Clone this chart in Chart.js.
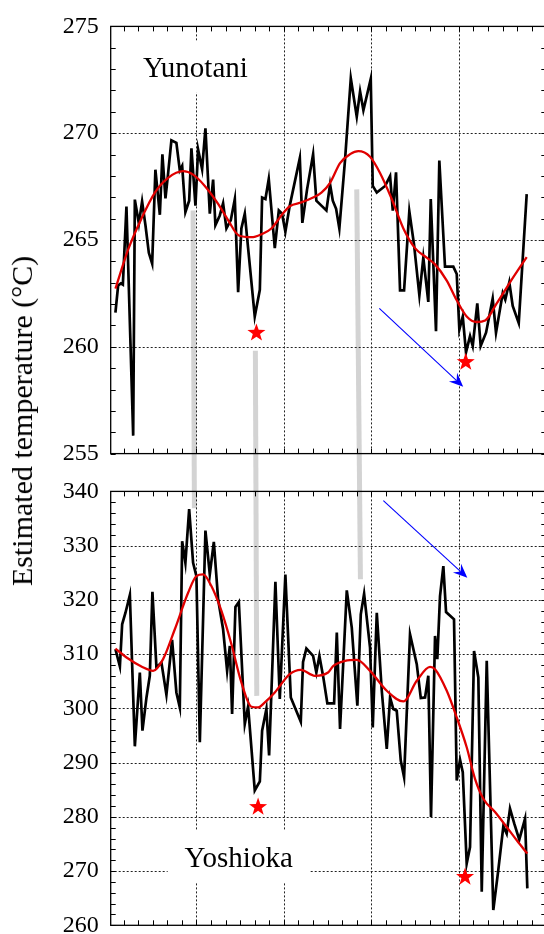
<!DOCTYPE html>
<html><head><meta charset="utf-8">
<script src="https://cdn.jsdelivr.net/npm/chart.js@4.4.1/dist/chart.umd.min.js"></script>
<style>
html,body{margin:0;padding:0;background:#fff;overflow:hidden;width:544px;height:934px;}
#wrap{position:relative;width:544px;height:934px;overflow:hidden;background:#fff;}
canvas{position:absolute;left:0;}
#under{top:0;z-index:0}
#c1{top:0;z-index:1}
#c2{top:465px;z-index:1}
#over{top:0;z-index:2}
#ytitle{position:absolute;left:22px;top:421px;transform:translate(-50%,-50%) rotate(-90deg);white-space:nowrap;font:30px 'Liberation Serif';color:#000;z-index:3}
</style></head>
<body><div id="wrap">
<canvas id="under" width="560" height="960"></canvas>
<canvas id="c1" width="560" height="480"></canvas>
<canvas id="c2" width="560" height="490"></canvas>
<canvas id="over" width="560" height="960"></canvas>
<div id="ytitle">Estimated temperature (°C)</div>
</div>
<script>
// ---- Yunotani (top panel) ----
const topX = [7.4,10.5,13.6,15.9,20.0,27.7,29.6,34.2,37.9,41.7,45.6,49.4,53.1,58.2,61.1,64.6,67.7,71.4,77.1,81.0,83.7,87.4,91.7,94.3,98.9,101.9,106.5,110.3,115.3,119.1,121.7,126.7,130.5,134.3,139.3,143.9,147.7,151.4,155.3,159.1,166.7,172.5,175.1,178.9,182.7,189.6,194.2,197.9,201.7,206.7,218.2,221.1,226.5,233.4,237.1,242.9,248.6,252.8,255.9,259.7,263.4,269.9,276.5,283.3,287.1,290.9,299.3,301.6,306.2,315.7,321.4,324.5,328.2,332.8,337.4,343.4,348.8,354.9,359.4,365.1,367.9,373.9,377.7,384.2,393.7,397.6,400.6,404.5,408.2,412.8,415.9,421.1,425.0,431.1,438.7,442.5,450.2,453.1,457.7,461.6,468.5,477.6];
const topY = [261.6,262.87,262.97,262.91,266.57,255.84,266.89,265.77,266.8,265.7,264.4,263.89,268.29,266.18,269.01,266.95,268.14,269.67,269.55,268.26,268.47,266.31,266.84,269.29,266.61,269.24,268.32,270.23,266.23,267.83,265.7,266.15,266.72,265.54,265.93,266.92,262.56,265.54,266.23,264.62,261.42,262.67,266.99,266.92,267.86,264.62,266.38,266.23,265.39,266.61,268.83,265.8,267.37,269.01,266.84,266.61,266.38,267.6,266.84,266.46,265.54,268.75,272.57,270.77,271.96,271.07,272.54,267.53,267.22,267.53,267.99,266.38,268.17,262.64,262.64,266.34,264.78,262.41,264.17,262.1,266.92,260.73,268.72,263.75,263.75,263.41,260.81,261.42,259.74,260.5,260.04,262.03,260.04,260.66,262.26,260.66,262.52,262.21,263.02,261.91,261.11,267.15];
const topSmoothX = [7.4,21.9,37.1,52.5,67.7,84.8,96.2,109.6,124.8,136.2,148.5,162.9,174.3,185.7,197.1,206.7,220.0,233.4,242.9,252.8,264.2,275.7,285.1,298.5,309.9,323.3,336.6,349.9,363.3,372.8,386.2,397.6,409.0,420.5,430.1,443.3,458.5,477.6];
const topSmoothY = [262.72,264.55,266.0,267.22,267.91,268.22,268.06,267.53,266.69,265.93,265.21,265.13,265.27,265.54,266.15,266.58,266.76,266.99,267.22,267.68,268.6,269.02,269.16,268.9,268.14,266.92,265.54,264.62,264.17,263.86,263.1,262.18,261.42,261.16,261.23,262.03,263.02,264.2];

// ---- Yoshioka (bottom panel) ----
const botX = [7.4,12.5,15.1,18.9,23.9,29.6,35.3,38.3,42.9,46.7,49.7,54.3,60.0,65.7,72.2,77.1,81.0,83.7,87.4,91.7,96.2,100.0,103.9,110.3,115.3,119.9,124.8,130.5,135.1,138.2,140.8,144.6,148.5,155.3,159.1,166.7,172.5,175.1,180.0,183.1,190.3,195.3,201.7,207.9,219.3,221.9,225.7,233.4,237.1,240.6,245.1,249.7,257.4,260.5,264.2,271.9,277.6,284.0,287.9,291.7,298.5,301.6,306.2,311.9,317.6,321.4,325.1,329.0,333.6,337.4,344.2,351.9,356.5,361.4,365.1,368.2,372.8,375.4,378.5,382.3,385.4,394.5,397.6,401.4,404.5,409.0,412.8,417.4,422.3,426.2,431.9,439.4,445.1,450.9,454.7,458.5,463.4,469.1,475.7,478.3];
const botY = [310.91,307.71,315.5,317.63,320.89,293.0,306.61,295.89,302.01,306.0,321.49,307.52,308.44,302.51,312.62,302.93,300.17,330.81,326.82,336.75,326.82,324.38,293.74,332.78,324.69,330.68,320.1,314.58,306.92,311.51,298.96,318.68,319.6,297.12,300.36,284.86,286.52,295.89,299.88,291.3,323.33,301.72,324.69,302.01,297.54,308.57,311.02,309.67,306.61,309.67,305.69,300.91,300.91,313.96,296.2,321.75,314.88,300.49,317.34,321.12,311.2,296.5,317.63,303.24,292.53,302.01,299.88,299.57,290.38,287.31,313.66,308.15,301.9,302.01,306.0,279.96,313.35,309.07,320.7,326.22,317.76,316.42,286.7,290.51,288.23,271.39,274.44,310.59,305.69,266.17,308.76,262.81,270.16,278.25,276.9,281.5,278.74,275.8,279.66,266.8];
const botSmoothX = [7.4,21.9,37.1,50.5,61.9,75.3,90.5,100.0,107.7,117.1,128.6,140.0,151.4,162.9,170.5,178.2,189.6,206.7,219.3,235.3,250.5,256.6,269.9,283.3,298.5,317.6,336.6,351.9,367.1,372.8,386.2,397.6,409.0,418.5,428.0,441.4,454.7,466.2,478.3];
const botSmoothY = [311.02,309.18,307.71,306.92,309.07,314.58,321.31,324.38,324.69,322.54,317.95,311.83,304.77,300.3,300.17,301.09,302.93,306.31,307.1,306.0,306.61,307.84,308.76,308.94,306.92,303.24,301.28,305.08,307.65,307.23,303.24,298.34,292.82,287.01,283.34,280.88,278.12,275.67,273.23];

// ---- axes ----
const xRange = [2, 500];
const xGrid = [100, 200, 300, 400];
const topYTicks = [255, 275, 5];   // min, max, step
const botYTicks = [260, 340, 10];
const topGridY = [260, 265, 270];
const botGridY = [270, 280, 290, 300, 310, 320, 330];

// ---- annotations (data units) ----
const grayLinksTop = [{x:96.2,y:266.38},{x:167.4,y:259.81},{x:283.3,y:267.37}];
const grayLinksBot = [{x:97.7,y:336.9},{x:169.0,y:302.3},{x:287.5,y:323.8}];
const starsTop = [{x:168.6,y:260.65},{x:407.9,y:259.28}];
const starsBot = [{x:170.5,y:281.8},{x:407.1,y:268.9}];
const arrowTop = [{x:309.1,y:261.8},{x:405.0,y:258.13}];
const arrowBot = [{x:313.7,y:338.3},{x:409.7,y:324.1}];
const labelTop = {text:'Yunotani', x:98.9, y:273.11};
const labelBot = {text:'Yoshioka', x:148.3, y:272.73};

const framePlugin = {
  id: 'frame',
  beforeDatasetsDraw(chart, args, o) {
    const {ctx, chartArea: a} = chart;
    const x = chart.scales.x, y = chart.scales.y;
    ctx.save();
    // dotted major grid
    ctx.strokeStyle = '#222'; ctx.lineWidth = 1; ctx.setLineDash([2,2]);
    ctx.beginPath();
    o.gridY.forEach(v => { const p = Math.round(y.getPixelForValue(v)) + 0.5; ctx.moveTo(a.left, p); ctx.lineTo(a.right, p); });
    o.gridX.forEach(v => { const p = Math.round(x.getPixelForValue(v)) + 0.5; ctx.moveTo(p, a.top); ctx.lineTo(p, a.bottom); });
    ctx.stroke();
    ctx.setLineDash([]);
    // label with white box
    const lx = x.getPixelForValue(o.label.x), ly = y.getPixelForValue(o.label.y);
    ctx.fillStyle = '#fff'; ctx.fillRect(lx - 71, ly - 26, 142, 52);
    ctx.fillStyle = '#000'; ctx.font = '29px "Liberation Serif"';
    ctx.textAlign = 'center'; ctx.textBaseline = 'alphabetic';
    ctx.fillText(o.label.text, lx, ly + 10.5);
    // minor ticks (inward)
    ctx.strokeStyle = '#000'; ctx.lineWidth = 1;
    ctx.beginPath();
    for (let v = y.min; v <= y.max + 1e-9; v += o.minorY) {
      const p = Math.round(y.getPixelForValue(v)) + 0.5;
      ctx.moveTo(a.left, p); ctx.lineTo(a.left + 5, p);
      ctx.moveTo(a.right, p); ctx.lineTo(a.right - 5, p);
    }
    for (let k = 0; k * o.minorX <= x.max + 1e-9; k++) {
      const v = k * o.minorX; if (v < x.min) continue;
      const p = Math.round(x.getPixelForValue(v)) + 0.5;
      ctx.moveTo(p, a.top); ctx.lineTo(p, a.top + 5);
      ctx.moveTo(p, a.bottom); ctx.lineTo(p, a.bottom - 5);
    }
    ctx.stroke();
    ctx.lineWidth = 1.3;
    ctx.strokeRect(a.left, a.top, a.right - a.left, a.bottom - a.top);
    ctx.restore();
  }
};

function pts(xs, ys) { return xs.map((v, i) => ({x: v, y: ys[i]})); }

function makeChart(id, raw, smooth, yt, gridY, minorY, label, padding) {
  return new Chart(document.getElementById(id), {
    type: 'scatter',
    data: { datasets: [
      { data: smooth, showLine: true, borderColor: '#e00000', borderWidth: 2.3, pointRadius: 0, cubicInterpolationMode: 'monotone', fill: false },
      { data: raw, showLine: true, borderColor: '#000', borderWidth: 2.7, pointRadius: 0, tension: 0, fill: false }
    ]},
    options: {
      responsive: false, animation: false, devicePixelRatio: 1,
      layout: { padding },
      events: [],
      plugins: { legend: {display:false}, tooltip: {enabled:false},
        frame: { gridX: xGrid, gridY, minorY, minorX: 100/6, label } },
      scales: {
        x: { type: 'linear', display: false, min: xRange[0], max: xRange[1] },
        y: { type: 'linear', min: yt[0], max: yt[1],
             afterFit: s => { s.width = 110.7; },
             grid: { display: false, drawTicks: false }, border: { display: false },
             ticks: { stepSize: yt[2], padding: 12, color: '#000', font: { family: 'Liberation Serif', size: 24 } } }
      }
    },
    plugins: [framePlugin]
  });
}

const c1 = makeChart('c1', pts(topX, topY), pts(topSmoothX, topSmoothY), topYTicks, topGridY, 1, labelTop,
  {top: 20.3, bottom: 23.3, left: 0, right: 13.7});
const c2 = makeChart('c2', pts(botX, botY), pts(botSmoothX, botSmoothY), botYTicks, botGridY, 2, labelBot,
  {top: 25, bottom: 29.7, left: 0, right: 13.7});

const off1 = 0, off2 = 465;
function toPage(chart, off, p) {
  return { x: chart.scales.x.getPixelForValue(p.x), y: off + chart.scales.y.getPixelForValue(p.y) };
}

// gray connecting lines (under the charts)
const uctx = document.getElementById('under').getContext('2d');
uctx.strokeStyle = '#d3d3d3'; uctx.lineWidth = 5; uctx.lineCap = 'butt';
grayLinksTop.forEach((p, i) => {
  const a = toPage(c1, off1, p), b = toPage(c2, off2, grayLinksBot[i]);
  uctx.beginPath(); uctx.moveTo(a.x, a.y); uctx.lineTo(b.x, b.y); uctx.stroke();
});

// stars and arrows (over the charts)
const octx = document.getElementById('over').getContext('2d');
function star(ctx, cx, cy, R, r) {
  ctx.beginPath();
  for (let i = 0; i < 10; i++) {
    const ang = -Math.PI / 2 + i * Math.PI / 5, rad = (i % 2) ? r : R;
    ctx.lineTo(cx + rad * Math.cos(ang), cy + rad * Math.sin(ang));
  }
  ctx.closePath(); ctx.fill();
}
function arrow(ctx, p0, p1) {
  const ang = Math.atan2(p1.y - p0.y, p1.x - p0.x), c = Math.cos(ang), s = Math.sin(ang);
  const L = 14, W = 6, N = 9;
  ctx.strokeStyle = '#0000ff'; ctx.fillStyle = '#0000ff'; ctx.lineWidth = 1.1;
  ctx.beginPath(); ctx.moveTo(p0.x, p0.y); ctx.lineTo(p1.x - N * c, p1.y - N * s); ctx.stroke();
  ctx.beginPath();
  ctx.moveTo(p1.x, p1.y);
  ctx.lineTo(p1.x - L * c + W * s, p1.y - L * s - W * c);
  ctx.lineTo(p1.x - N * c, p1.y - N * s);
  ctx.lineTo(p1.x - L * c - W * s, p1.y - L * s + W * c);
  ctx.closePath(); ctx.fill();
}
octx.fillStyle = '#ff0000';
starsTop.forEach(p => { const q = toPage(c1, off1, p); star(octx, q.x, q.y, 9.5, 3.8); });
starsBot.forEach(p => { const q = toPage(c2, off2, p); star(octx, q.x, q.y, 9.5, 3.8); });
arrow(octx, toPage(c1, off1, arrowTop[0]), toPage(c1, off1, arrowTop[1]));
arrow(octx, toPage(c2, off2, arrowBot[0]), toPage(c2, off2, arrowBot[1]));
</script>
</body></html>
